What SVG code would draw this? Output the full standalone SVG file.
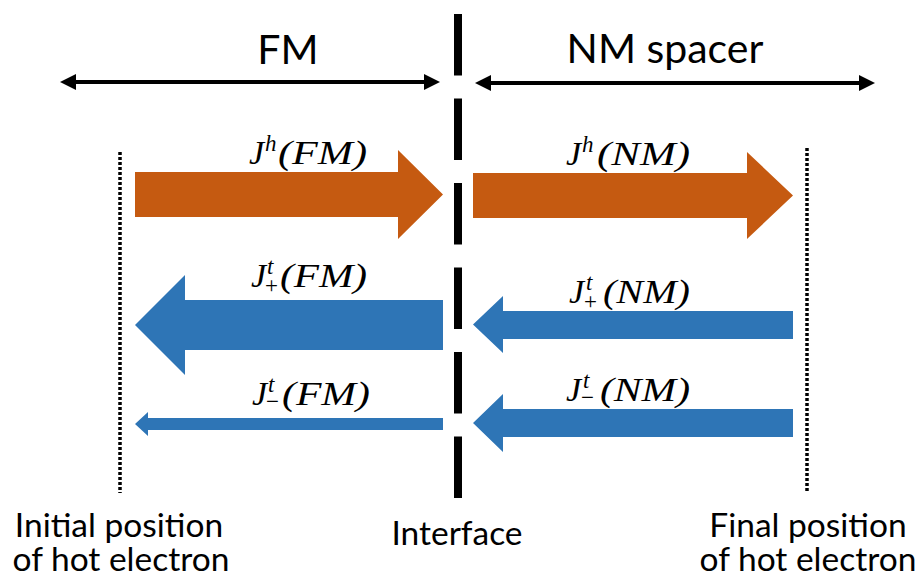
<svg xmlns="http://www.w3.org/2000/svg" width="917" height="583" viewBox="0 0 917 583">
  <defs>
    <marker id="ah" viewBox="0 0 10 10" refX="5" refY="5" markerWidth="4" markerHeight="4" orient="auto-start-reverse" markerUnits="strokeWidth">
      <path d="M0,0 L10,5 L0,10 Z" fill="#000"/>
    </marker>
  </defs>
  <style>
    .lbl { font-family: Lato, "Liberation Sans", sans-serif; fill: #000; }
    .hdr { font-size: 41px; text-anchor: middle; }
    .cap { font-size: 33.5px; text-anchor: middle; }
    .m { font-family: "Liberation Serif", "DejaVu Serif", serif; font-style: italic; font-size: 34px; fill: #000; }
    .s { font-size: 23px; }
    .up { font-style: normal; }
    .orange { fill: #C55A11; }
    .blue { fill: #2E75B6; }
    .span { stroke: #000; stroke-width: 4; fill: none; marker-start: url(#ah); marker-end: url(#ah); }
    .dot { stroke: #000; stroke-width: 3.5; stroke-dasharray: 3 2; fill: none; }
    .iface { stroke: #000; stroke-width: 8; stroke-dasharray: 61.5 23; fill: none; }
  </style>
  <rect width="917" height="583" fill="#fff"/>

  <g id="fm-region">
    <text class="lbl hdr" x="288" y="64">FM</text>
  </g>
  <g id="nm-region">
    <text class="lbl hdr" x="665" y="63">NM spacer</text>
  </g>

  <g id="interface">
    <line class="iface" x1="458" y1="14" x2="458" y2="501"/>
    <text class="lbl cap" x="457" y="545">Interface</text>
  </g>

  <g id="initial-position">
    <line class="dot" x1="120" y1="152" x2="120" y2="493"/>
    <text class="lbl cap" x="119" y="537">Initial position</text>
    <text class="lbl cap" x="121" y="571">of hot electron</text>
  </g>

  <g id="final-position">
    <line class="dot" x1="807" y1="148" x2="807" y2="491"/>
    <text class="lbl cap" x="808" y="537">Final position</text>
    <text class="lbl cap" x="808" y="571">of hot electron</text>
  </g>

  <g id="Jh-FM">
    <path class="orange" d="M135,172 L398,172 L398,150 L443,194.5 L398,239 L398,217 L135,217 Z"/>
    <text class="m"><tspan x="249" y="164">J</tspan><tspan class="s" x="265" y="151">h</tspan><tspan x="278" y="164" textLength="89" lengthAdjust="spacingAndGlyphs">(FM)</tspan></text>
  </g>

  <g id="Jh-NM">
    <path class="orange" d="M473,173 L747,173 L747,152 L793,195.5 L747,239 L747,218 L473,218 Z"/>
    <text class="m"><tspan x="566" y="165">J</tspan><tspan class="s" x="582" y="152">h</tspan><tspan x="597" y="165" textLength="93" lengthAdjust="spacingAndGlyphs">(NM)</tspan></text>
  </g>

  <g id="Jt-plus-FM">
    <path class="blue" d="M443,300 L185,300 L185,275 L135,325 L185,375 L185,350 L443,350 Z"/>
    <text class="m"><tspan x="251" y="287">J</tspan><tspan class="s" x="267" y="274">t</tspan><tspan class="s up" x="265" y="293">+</tspan><tspan x="280" y="287" textLength="87" lengthAdjust="spacingAndGlyphs">(FM)</tspan></text>
  </g>

  <g id="Jt-minus-FM">
    <path class="blue" d="M443,418 L148,418 L148,412 L135,424 L148,436 L148,430 L443,430 Z"/>
    <text class="m"><tspan x="252" y="405">J</tspan><tspan class="s" x="268" y="392">t</tspan><tspan class="s up" x="266" y="409">−</tspan><tspan x="282" y="405" textLength="88" lengthAdjust="spacingAndGlyphs">(FM)</tspan></text>
  </g>

  <g id="Jt-plus-NM">
    <path class="blue" d="M793,311 L503,311 L503,296 L473,324.5 L503,353 L503,339 L793,339 Z"/>
    <text class="m"><tspan x="569" y="303">J</tspan><tspan class="s" x="586" y="290">t</tspan><tspan class="s up" x="584" y="309">+</tspan><tspan x="603" y="303" textLength="87" lengthAdjust="spacingAndGlyphs">(NM)</tspan></text>
  </g>

  <g id="Jt-minus-NM">
    <path class="blue" d="M793,409 L503,409 L503,394 L473,423 L503,452 L503,437 L793,437 Z"/>
    <text class="m"><tspan x="566" y="401">J</tspan><tspan class="s" x="583" y="388">t</tspan><tspan class="s up" x="581" y="405">−</tspan><tspan x="600" y="401" textLength="90" lengthAdjust="spacingAndGlyphs">(NM)</tspan></text>
  </g>

  <g id="connectors">
    <line class="span" x1="68" y1="82" x2="432" y2="82"/>
    <line class="span" x1="483" y1="83" x2="867" y2="83"/>
  </g>
</svg>
